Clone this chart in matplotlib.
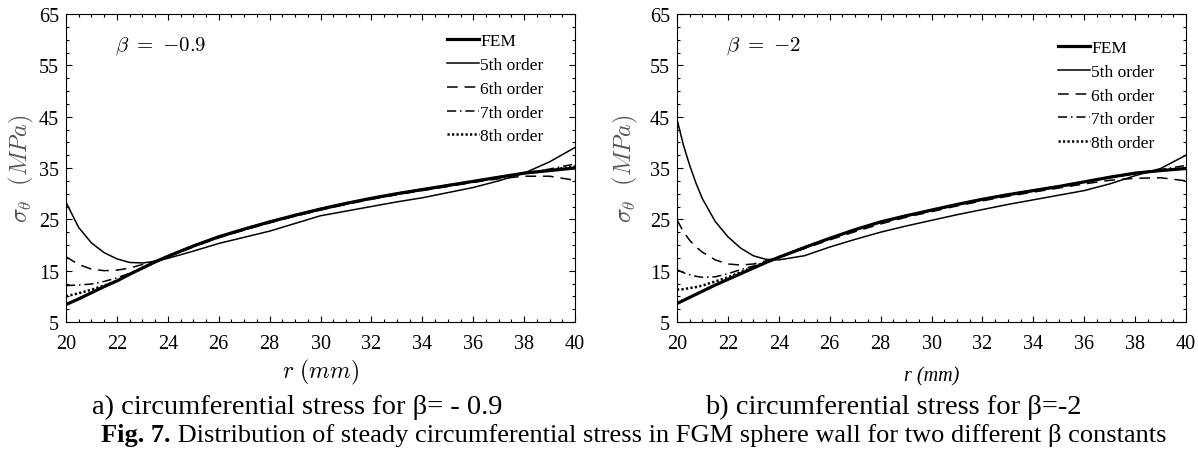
import matplotlib
matplotlib.use("Agg")
import matplotlib.pyplot as plt
from matplotlib.ticker import MultipleLocator, FixedLocator
from matplotlib.offsetbox import TextArea, HPacker, AnchoredOffsetbox

plt.rcParams['font.family'] = ['Liberation Serif', 'DejaVu Serif']
plt.rcParams['mathtext.fontset'] = 'cm'

# ---- data ----
# a) beta = -0.9
r_a = [20, 20.5, 21, 21.5, 22, 22.5, 23, 23.5, 24, 25, 26, 27, 28, 29, 30,
       31, 32, 33, 34, 35, 36, 37, 38, 39, 40]
fem_a = [8.4, 9.5, 10.7, 11.9, 13.0, 14.3, 15.5, 16.7, 17.8, 19.8, 21.6, 23.1,
         24.5, 25.8, 27.0, 28.1, 29.1, 30.0, 30.8, 31.6, 32.4, 33.2, 34.0,
         34.5, 35.0]
o5_a = [28.3, 23.4, 20.4, 18.5, 17.3, 16.6, 16.5, 16.8, 17.4, 18.8, 20.3,
        21.5, 22.7, 24.2, 25.7, 26.6, 27.5, 28.4, 29.2, 30.2, 31.2, 32.5,
        34.0, 36.2, 39.0]
o6_a = [17.7, 16.2, 15.3, 15.0, 15.1, 15.5, 16.2, 16.9, 17.7, 19.6, 21.4,
        22.9, 24.3, 25.6, 26.8, 27.9, 28.9, 29.8, 30.6, 31.4, 32.2, 32.9,
        33.4, 33.4, 32.6]
o7_a = [12.1, 12.2, 12.4, 12.9, 13.6, 14.5, 15.5, 16.6, 17.7, 19.7, 21.5,
        23.0, 24.4, 25.7, 26.9, 28.0, 29.0, 29.9, 30.7, 31.5, 32.3, 33.1,
        33.9, 34.8, 35.8]
o8_a = [10.0, 10.6, 11.3, 12.1, 13.0, 14.3, 15.5, 16.7, 17.8, 19.8, 21.6,
        23.1, 24.5, 25.8, 27.0, 28.1, 29.1, 30.0, 30.8, 31.6, 32.4, 33.2,
        34.0, 34.6, 35.3]

# b) beta = -2
r_b = [20, 20.25, 20.5, 20.75, 21, 21.5, 22, 22.5, 23, 23.5, 24, 25, 26, 27,
       28, 29, 30, 31, 32, 33, 34, 35, 36, 37, 38, 39, 40]
fem_b = [8.6, 9.2, 9.8, 10.4, 11.0, 12.2, 13.3, 14.4, 15.5, 16.6, 17.6, 19.5,
         21.3, 23.0, 24.5, 25.7, 26.8, 27.9, 28.9, 29.8, 30.6, 31.4, 32.3,
         33.2, 34.0, 34.5, 34.9]
o5_b = [44.5, 39.5, 35.5, 32.0, 29.0, 24.6, 21.6, 19.4, 17.9, 17.2, 17.1,
        17.9, 19.6, 21.1, 22.5, 23.7, 24.8, 25.9, 26.9, 27.9, 28.8, 29.7,
        30.6, 31.9, 33.5, 34.9, 37.5]
o6_b = [24.9, 22.6, 20.9, 19.6, 18.6, 17.1, 16.3, 16.1, 16.3, 16.9, 17.6,
        19.3, 21.0, 22.6, 24.1, 25.4, 26.5, 27.6, 28.6, 29.5, 30.3, 31.1,
        31.9, 32.6, 33.0, 33.1, 32.5]
o7_b = [15.2, 14.6, 14.2, 13.9, 13.7, 13.8, 14.4, 15.2, 15.9, 16.7, 17.5,
        19.4, 21.2, 22.9, 24.4, 25.6, 26.7, 27.8, 28.8, 29.7, 30.5, 31.3,
        32.2, 33.1, 33.9, 34.7, 35.5]
o8_b = [11.3, 11.4, 11.6, 11.8, 12.1, 12.9, 13.7, 14.7, 15.7, 16.7, 17.6,
        19.5, 21.3, 23.0, 24.5, 25.7, 26.8, 27.9, 28.9, 29.8, 30.6, 31.4,
        32.3, 33.2, 34.0, 34.5, 35.0]

labels = ['FEM', '5th order', '6th order', '7th order', '8th order']
yticks = [5, 15, 25, 35, 45, 55, 65]
styles = [dict(lw=2.3, ls='-'),
          dict(lw=1.1, ls='-'),
          dict(lw=1.1, ls=(0, (7, 4.5))),
          dict(lw=1.1, ls=(0, (6, 2.5, 1, 2.5))),
          dict(lw=1.8, ls=(0, (0.9, 0.9)))]

fig = plt.figure(figsize=(11.98, 4.52), dpi=100)
ax1 = fig.add_axes([0.0551, 0.2854, 0.4249, 0.6814])
ax2 = fig.add_axes([0.5651, 0.2854, 0.4249, 0.6814])

panels = [(ax1, r_a, [fem_a, o5_a, o6_a, o7_a, o8_a], r'$\beta\ =\ {-}0.9$',
           0.938, -0.088),
          (ax2, r_b, [fem_b, o5_b, o6_b, o7_b, o8_b], r'$\beta\ =\ {-}2$',
           0.916, -0.102)]

for ax, r, series, beta, leg_top, ylab_x in panels:
    for ys, lab, st in zip(series, labels, styles):
        ax.plot(r, ys, color='black', label=lab, **st)
    ax.set_xlim(20, 40)
    ax.set_ylim(5, 65)
    ax.xaxis.set_major_locator(MultipleLocator(2))
    ax.xaxis.set_minor_locator(MultipleLocator(0.5))
    ax.yaxis.set_major_locator(FixedLocator(yticks))
    ax.yaxis.set_minor_locator(MultipleLocator(2.5))
    ax.tick_params(which='both', direction='in', top=True, right=True,
                   labelsize=14.5, width=0.8)
    ax.tick_params(which='major', length=4)
    ax.tick_params(which='minor', length=2)
    ax.tick_params(axis='x', which='major', pad=9)
    ax.tick_params(axis='y', which='major', pad=5)
    for s in ax.spines.values():
        s.set_linewidth(0.8)
    ax.set_ylabel(r'$\sigma_\theta\ \ (MPa)$', fontsize=17.5, color='#555555',
                  va='center')
    ax.yaxis.set_label_coords(ylab_x, 0.5)
    ax.text(0.096, 0.90, beta, transform=ax.transAxes, fontsize=15,
            va='center')
    ax.legend(loc='upper left', bbox_to_anchor=(0.749, leg_top),
              frameon=False, fontsize=12.5, handlelength=1.8,
              handletextpad=0.1, labelspacing=0.44, borderpad=0,
              borderaxespad=0)

ax1.set_xlabel(r'$r\ (mm)$', fontsize=17, va='center')
ax1.xaxis.set_label_coords(0.5, -0.162)
ax2.set_xlabel('r (mm)', fontsize=14.5, style='italic', va='center')
ax2.xaxis.set_label_coords(0.5, -0.175)

fig.text(0.248, 0.0996, 'a) circumferential stress for β= - 0.9',
         ha='center', va='center', fontsize=20.5)
fig.text(0.746, 0.0996, 'b) circumferential stress for β=-2',
         ha='center', va='center', fontsize=20.5)

# bold "Fig. 7." followed by the regular caption text
bold = TextArea('Fig. 7.', textprops=dict(fontsize=19, fontweight='bold'))
rest = TextArea(' Distribution of steady circumferential stress in FGM sphere '
                'wall for two different β constants',
                textprops=dict(fontsize=19))
box = HPacker(children=[bold, rest], align='baseline', pad=0, sep=0)
cap = AnchoredOffsetbox(loc='center', child=box, frameon=False,
                        bbox_to_anchor=(0.529, 0.036),
                        bbox_transform=fig.transFigure, pad=0, borderpad=0)
fig.add_artist(cap)

fig.savefig('out.png', dpi=100)
